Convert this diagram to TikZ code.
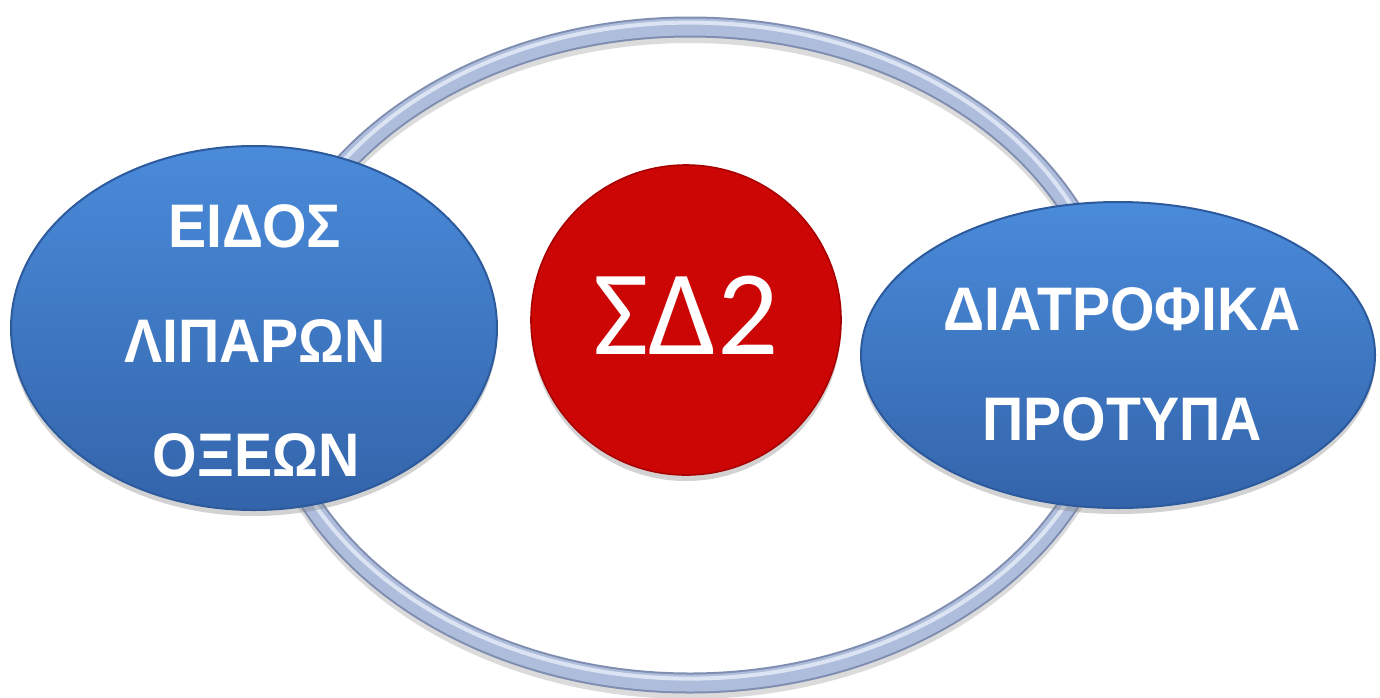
\documentclass[tikz,border=0pt]{standalone}
\usepackage{fontspec}
\usetikzlibrary{shapes.geometric,shadows}
\newfontfamily\bubble[FakeStretch=0.93]{Liberation Sans}
\newfontfamily\calib{Carlito}
\definecolor{ringdark}{HTML}{7F8EB0}
\definecolor{ringmid}{HTML}{AEBDDB}
\definecolor{ringlight}{HTML}{DCE4F4}
\definecolor{ringshadow}{HTML}{9A9A9A}
\definecolor{bluetop}{HTML}{4A8BDA}
\definecolor{bluebot}{HTML}{3364AA}
\definecolor{blueedge}{HTML}{2C5A9C}
\definecolor{redfill}{HTML}{CC0505}
\definecolor{rededge}{HTML}{A80000}
\begin{document}
\begin{tikzpicture}[x=0.5pt,y=-0.5pt,
  blob/.style={ellipse, inner sep=0pt, top color=bluetop, bottom color=bluebot,
    draw=blueedge, line width=1pt,
    drop shadow={opacity=0.35, shadow xshift=0pt, shadow yshift=-3pt}},
  lbl/.style={text=white, font=\bubble\bfseries\fontsize{30.75}{36}\selectfont,
    anchor=base, inner sep=0pt},
  ringline/.style={line width=10.5pt},
]
\useasboundingbox[fill=white] (0,0) rectangle (1380,697);

% ring
\node[ellipse, inner sep=0pt, minimum width=425pt, minimum height=328pt] (ring) at (690,355) {};
\draw[ringshadow, opacity=0.35, line width=10pt] ([yshift=-3pt]ring.center) ellipse [x radius=212.5pt, y radius=164pt];
\draw[ringdark, ringline] (ring.center) ellipse [x radius=212.5pt, y radius=164pt];
\draw[ringmid, line width=8.5pt] (ring.center) ellipse [x radius=212.5pt, y radius=164pt];
\draw[ringlight, line width=2pt] ([yshift=2.2pt]ring.center) ellipse [x radius=212.5pt, y radius=164pt];

% left ellipse
\node[blob, minimum width=243pt, minimum height=182pt] (left) at (254,328) {};
\node[lbl] (l1) at (255,247) {ΕΙΔΟΣ};
\node[lbl] (l2) at (255,362) {ΛΙΠΑΡΩΝ};
\node[lbl] (l3) at (256,476) {ΟΞΕΩΝ};

% centre circle
\node[circle, inner sep=0pt, minimum size=155pt, fill=redfill, draw=rededge, line width=0.8pt,
  drop shadow={opacity=0.35, shadow xshift=0pt, shadow yshift=-3pt}] (sd) at (686,320) {};
\node[text=white, font=\calib\fontsize{60.5}{70}\selectfont, anchor=base, inner sep=0pt] (sdt) at (686,354) {ΣΔ2};

% right ellipse
\node[blob, minimum width=257pt, minimum height=153pt] (right) at (1118,355) {};
\node[lbl] (r1) at (1122,330) {ΔΙΑΤΡΟΦΙΚΑ};
\node[lbl] (r2) at (1122,440) {ΠΡΟΤΥΠΑ};
\end{tikzpicture}
\end{document}
